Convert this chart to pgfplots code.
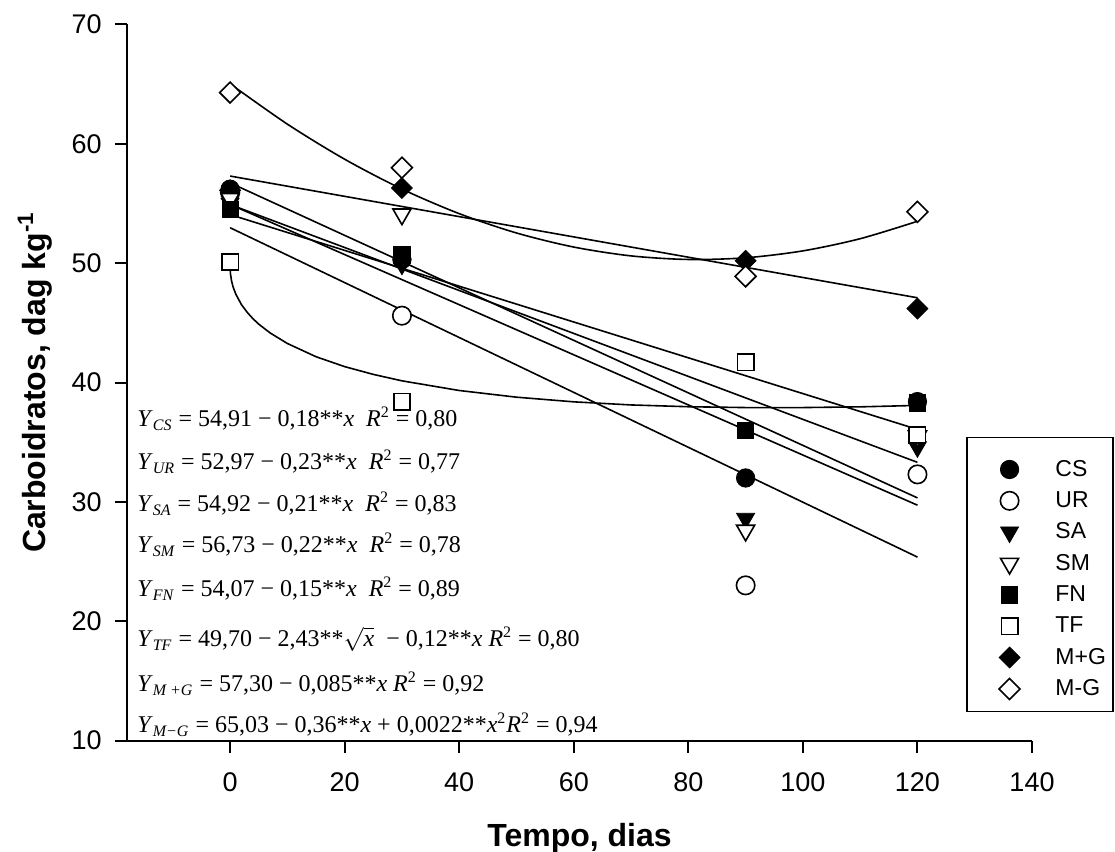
\documentclass[border=0pt]{standalone}
\usepackage{fontspec}
\setmainfont{Liberation Sans}
\newfontfamily\tnr{Liberation Serif}
\usepackage{pgfplots}
\pgfplotsset{compat=1.18}
\newcommand\ssub[1]{\textsubscript{\textit{#1}}}
\newcommand\eqY[1]{\textit{Y}\ssub{#1}}
\newcommand\Rsq{\textit{R}\textsuperscript{2}}
\tikzset{eqn/.style={anchor=base west, inner sep=0pt, font=\tnr\fontsize{12}{14}\selectfont}}
\begin{document}
\begin{tikzpicture}
\begin{axis}[
  name=ax,
  scale only axis, width=452.5pt, height=358pt,
  xmin=-18, xmax=140, ymin=10, ymax=70,
  xtick={0,20,...,140}, ytick={10,20,...,70},
  axis x line*=bottom, axis y line*=left,
  axis line style={line width=1pt},
  tick style={line width=1pt, black},
  tick align=outside, major tick length=6pt,
  /pgf/number format/assume math mode=true,
  tick label style={font=\fontsize{13.5}{15}\selectfont, inner sep=0pt},
  xticklabel style={anchor=north, yshift=-10pt},
  yticklabel style={anchor=east, xshift=-6.5pt},
  xlabel={\textbf{Tempo, dias}},
  ylabel={\textbf{Carboidratos, dag kg\textsuperscript{-1}}},
  label style={font=\fontsize{16}{19}\selectfont},
  xlabel style={at={(axis description cs:0.5,-0.148)}, anchor=base},
  ylabel style={at={(axis description cs:-0.1017,0.5)}, anchor=center},
  clip=false,
  legend style={draw=none, fill=none, at={(axis description cs:0.955,0.398)}, anchor=north west,
    inner sep=0pt, row sep=2.2pt, font=\fontsize{11.5}{13}\selectfont},
  legend cell align=left,
  legend image code/.code={\path (0cm,0cm) (0.6cm+12pt,0cm); \draw[#1] plot coordinates {(0.3cm,0cm)};},
]
% fitted curves
\addplot[black, line width=0.8pt, forget plot] coordinates {(0,54.91)(120,33.31)}; % CS
\addplot[black, line width=0.8pt, forget plot] coordinates {(0,52.97)(120,25.37)}; % UR
\addplot[black, line width=0.8pt, forget plot] coordinates {(0,54.92)(120,29.72)}; % SA
\addplot[black, line width=0.8pt, forget plot] coordinates {(0,56.73)(120,30.33)}; % SM
\addplot[black, line width=0.8pt, forget plot] coordinates {(0,54.07)(120,36.07)}; % FN
\addplot[black, line width=0.8pt, forget plot] coordinates {
 (0,49.70)(0.05,49.16)(0.25,48.52)(0.5,48.04)(1,47.40)(2,46.51)(3,45.87)(4,45.34)(5,44.89)(7,44.15)
 (10,43.27)(15,42.16)(20,41.33)(25,40.68)(30,40.14)(40,39.33)(50,38.77)(60,38.38)(70,38.12)
 (80,37.97)(90,37.90)(100,37.90)(110,37.96)(120,38.08)}; % TF
\addplot[black, line width=0.8pt, forget plot] coordinates {(0,57.30)(120,47.10)}; % M+G
\addplot[black, line width=0.8pt, forget plot, smooth] coordinates {
 (0,65.03)(10,61.65)(20,58.71)(30,56.21)(40,54.15)(50,52.53)(60,51.35)(70,50.61)
 (80,50.31)(90,50.45)(100,51.03)(110,52.05)(120,53.51)}; % M-G
% hidden points drawn first
\addplot[only marks, forget plot, mark=square*, mark size=4.1pt, fill=black, draw=black] coordinates {(120,38.3)};
\addplot[only marks, forget plot, mark=*, mark size=4.6pt, fill=white, draw=black, line width=0.8pt] coordinates {(0,55.9)};
\addplot[only marks, forget plot, mark=square*, mark options={rotate=45}, mark size=3.7pt, fill=black, draw=black] coordinates {(0,56.1)};
% data
\addplot[only marks, mark=*, mark size=4.6pt, draw=black, fill=black] coordinates {(0,56.2)(30,50.3)(90,32.0)(120,38.4)};
\addlegendentry{CS}
\addplot[only marks, mark=*, mark size=4.6pt, draw=black, fill=white, line width=0.8pt] coordinates {(30,45.6)(90,23.0)(120,32.3)};
\addlegendentry{UR}
\addplot[only marks, mark=triangle*, mark options={rotate=180}, mark size=5.2pt, draw=black, fill=black] coordinates {(0,55.0)(30,49.9)(90,28.6)(120,34.6)};
\addlegendentry{SA}
\addplot[only marks, mark=triangle*, mark options={rotate=180}, mark size=5.2pt, draw=black, fill=white, line width=0.8pt] coordinates {(0,55.4)(30,54.1)(90,27.6)(120,35.5)};
\addlegendentry{SM}
\addplot[only marks, mark=square*, mark size=4.1pt, draw=black, fill=black] coordinates {(0,54.5)(30,50.7)(90,36.0)};
\addlegendentry{FN}
\addplot[only marks, mark=square*, mark size=4.1pt, draw=black, fill=white, line width=0.8pt] coordinates {(0,50.1)(30,38.4)(90,41.7)(120,35.6)};
\addlegendentry{TF}
\addplot[only marks, mark=square*, mark options={rotate=45}, mark size=3.7pt, draw=black, fill=black] coordinates {(30,56.3)(90,50.2)(120,46.2)};
\addlegendentry{M+G}
\addplot[only marks, mark=square*, mark options={rotate=45}, mark size=3.7pt, draw=black, fill=white, line width=0.8pt] coordinates {(0,64.3)(30,58.0)(90,48.9)(120,54.3)};
\addlegendentry{M-G}
% equations
\node[eqn] at (axis description cs:0.011,0.4385) {\eqY{CS} = 54,91 − 0,18**\textit{x}\ \ \Rsq{} = 0,80};
\node[eqn] at (axis description cs:0.011,0.3785) {\eqY{UR} = 52,97 − 0,23**\textit{x}\ \ \Rsq{} = 0,77};
\node[eqn] at (axis description cs:0.011,0.3198) {\eqY{SA} = 54,92 − 0,21**\textit{x}\ \ \Rsq{} = 0,83};
\node[eqn] at (axis description cs:0.011,0.2626) {\eqY{SM}\ = 56,73 − 0,22**\textit{x}\ \ \Rsq{} = 0,78};
\node[eqn] at (axis description cs:0.011,0.2011) {\eqY{FN} = 54,07 − 0,15**\textit{x}\ \ \Rsq{} = 0,89};
\node[eqn] at (axis description cs:0.011,0.1313) {\eqY{TF} = 49,70 − 2,43**$\sqrt{\mbox{\textit{x}}}$\ \ − 0,12**\textit{x}\ \Rsq{} = 0,80};
\node[eqn] at (axis description cs:0.011,0.0684) {\eqY{M +G} = 57,30 − 0,085**\textit{x}\ \Rsq{} = 0,92};
\node[eqn] at (axis description cs:0.011,0.0112) {\eqY{M−G} = 65,03 − 0,36**\textit{x} + 0,0022**\textit{x}\textsuperscript{2}\Rsq{} = 0,94};
% legend frame
\draw[line width=0.6pt] (axis description cs:0.9282,0.4232) rectangle (axis description cs:1.0895,0.0405);
\end{axis}
\pgfresetboundingbox
\path[use as bounding box] ([shift={(-63.5pt,-55.5pt)}]ax.south west) rectangle ([shift={(41.5pt,12.25pt)}]ax.north east);
\end{tikzpicture}
\end{document}
